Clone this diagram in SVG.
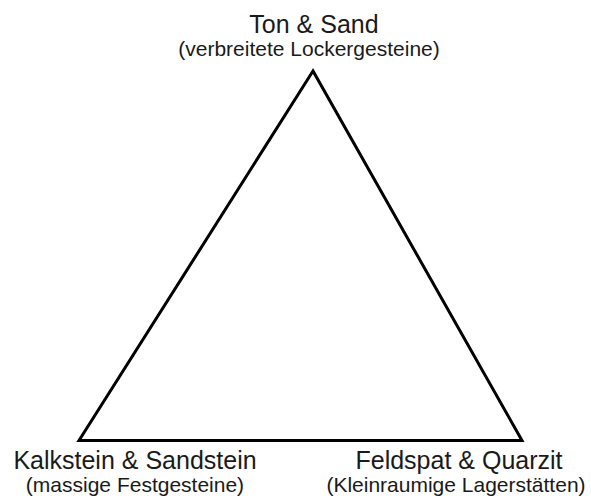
<svg xmlns="http://www.w3.org/2000/svg" width="591" height="498" viewBox="0 0 591 498">
<style>
.t{font-family:"Liberation Sans",Arial,sans-serif;font-size:25px;fill:#1a1a1a;text-anchor:middle}
.s{font-family:"Liberation Sans",Arial,sans-serif;font-size:21px;fill:#1a1a1a;text-anchor:middle}
.edge{fill:none;stroke:#000;stroke-width:3;stroke-linejoin:miter}
</style>
<rect width="591" height="498" fill="#fff"/>
<g id="connectors">
<polygon class="edge" points="313,71 79,440.5 522,440.5"/>
</g>
<g id="top">
<text class="t" x="314" y="33">Ton &amp; Sand</text>
<text class="s" x="309" y="56">(verbreitete Lockergesteine)</text>
</g>
<g id="left">
<text class="t" x="135" y="468.5">Kalkstein &amp; Sandstein</text>
<text class="s" x="135" y="492">(massige Festgesteine)</text>
</g>
<g id="right">
<text class="t" x="459" y="468.5">Feldspat &amp; Quarzit</text>
<text class="s" x="456" y="492">(Kleinraumige Lagerstätten)</text>
</g>
</svg>
